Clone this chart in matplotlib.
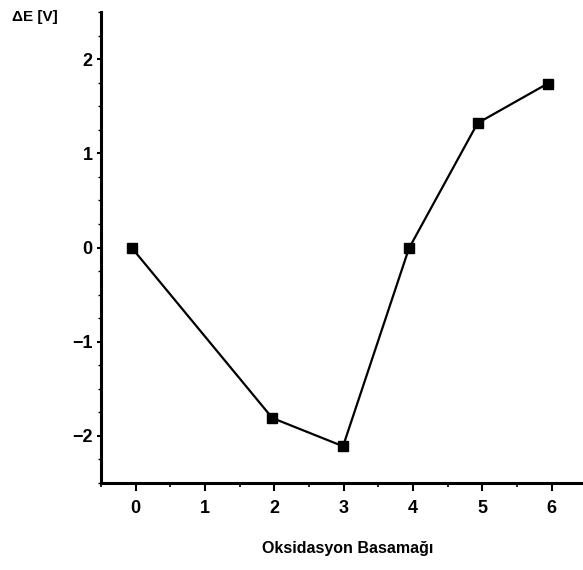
import numpy as np
import matplotlib.pyplot as plt
from matplotlib.ticker import MultipleLocator

plt.rcParams['font.family'] = ['Liberation Sans', 'DejaVu Sans']
plt.rcParams['font.weight'] = 'bold'

# Oksidasyon basamagi vs potansiyel farki
step = [-0.06, 1.97, 2.99, 3.94, 4.93, 5.94]
dE = [0.0, -1.81, -2.11, -0.01, 1.32, 1.74]

xticks = [0, 1, 2, 3, 4, 5, 6]
yticks = [-2, -1, 0, 1, 2]

fig = plt.figure(figsize=(5.83, 5.70), dpi=100)
ax = fig.add_axes([101/583, 1 - 483/570, 1 - 101/583, (483 - 12)/570])

ax.plot(step, dE, color='black', lw=1.6, marker='s', ms=7.5, mfc='black', mec='black')

ax.set_xlim(-0.5, 6.45)
ax.set_ylim(-2.5, 2.5)
ax.set_xticks(xticks)
ax.set_yticks(yticks)
ax.xaxis.set_minor_locator(MultipleLocator(0.5))
ax.yaxis.set_minor_locator(MultipleLocator(0.25))

for s in ['top', 'right']:
    ax.spines[s].set_visible(False)
for s in ['left', 'bottom']:
    ax.spines[s].set_linewidth(2.2)

ax.tick_params(axis='x', which='major', direction='out', length=6, width=1.5, pad=6, labelsize=13)
ax.tick_params(axis='x', which='minor', direction='out', length=3, width=1.2)
ax.tick_params(axis='y', which='major', direction='out', length=3, width=1.5, pad=3, labelsize=13)
ax.tick_params(axis='y', which='minor', direction='out', length=2, width=1.0)

fig.text(348/583, 1 - 548/570, 'Oksidasyon Basamağı', ha='center', va='center',
         fontsize=11.5, fontweight='bold')
fig.text(12/583, 1 - 17/570, 'ΔE [V]', ha='left', va='center',
         fontsize=11, fontweight='bold')

plt.savefig('out.png', dpi=100)
